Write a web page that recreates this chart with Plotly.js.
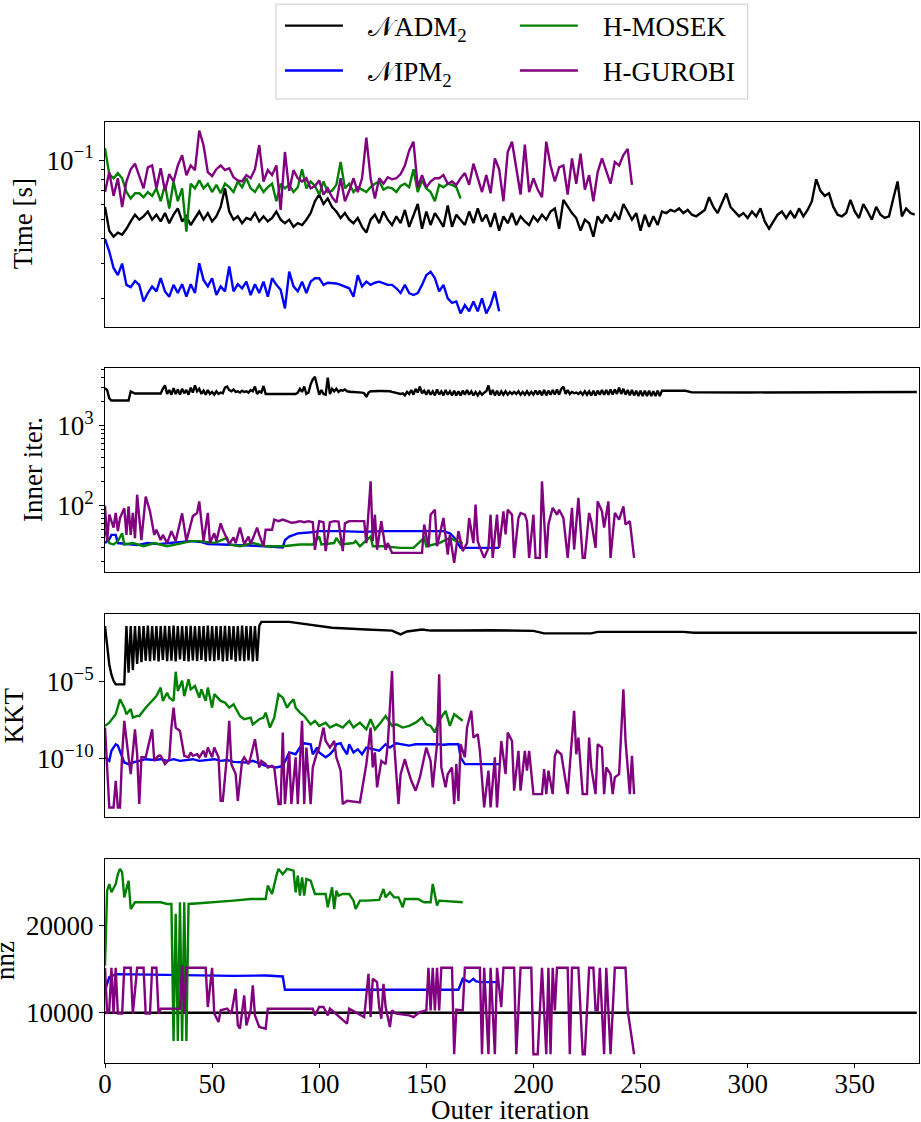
<!DOCTYPE html>
<html>
<head>
<meta charset="utf-8">
<script src="https://cdn.plot.ly/plotly-3.0.1.min.js"></script>
<style>
  html, body { margin: 0; padding: 0; background: #fff; }
  #chart { width: 921px; height: 1122px; }
</style>
</head>
<body>
<div id="chart"></div>
<script>
// ---- Time [s] (one value every 2 outer iterations, starting at 0)
const timeAdm = [
  0.058, 0.044, 0.041, 0.043, 0.042, 0.045, 0.049, 0.053, 0.05,
  0.052, 0.055, 0.05, 0.053, 0.049, 0.054, 0.048, 0.053, 0.057, 0.049, 0.052, 0.047, 0.051, 0.055, 0.05, 0.054, 0.049, 0.052, 0.058, 0.072,
  0.055, 0.05, 0.052, 0.048, 0.051, 0.05, 0.054, 0.049, 0.052, 0.049, 0.051, 0.055, 0.05, 0.048, 0.05, 0.046, 0.048, 0.047, 0.05, 0.054,
  0.062, 0.067, 0.06, 0.064, 0.058, 0.055, 0.051, 0.054, 0.05, 0.048, 0.051, 0.046, 0.043,
  0.05, 0.053, 0.048, 0.055, 0.05, 0.047, 0.052, 0.048, 0.056, 0.046, 0.052, 0.06, 0.045, 0.055, 0.047, 0.054, 0.05, 0.046, 0.059, 0.046, 0.053,
  0.05, 0.047, 0.055, 0.048, 0.057, 0.049, 0.053, 0.046, 0.054, 0.044, 0.052, 0.048, 0.054, 0.047, 0.052, 0.049, 0.047, 0.052, 0.049, 0.053,
  0.05, 0.055, 0.057, 0.045, 0.063, 0.058, 0.054, 0.051, 0.044, 0.05, 0.048, 0.041, 0.052, 0.048, 0.053, 0.049, 0.054, 0.05, 0.06, 0.055,
  0.05, 0.054, 0.044, 0.053, 0.046, 0.052, 0.047,
  0.055, 0.054, 0.056, 0.055, 0.057, 0.054, 0.056, 0.053, 0.052, 0.054, 0.056, 0.065, 0.058, 0.054, 0.06, 0.068, 0.058, 0.055, 0.052, 0.054,
  0.051, 0.055, 0.052, 0.057, 0.049, 0.045, 0.049, 0.053, 0.055, 0.051, 0.055, 0.051, 0.057, 0.052, 0.056, 0.062, 0.08, 0.07, 0.066, 0.068,
  0.058, 0.053, 0.052, 0.054, 0.063, 0.055, 0.051, 0.06, 0.055, 0.05, 0.058, 0.053, 0.051, 0.052, 0.064, 0.078, 0.052, 0.057, 0.054, 0.053
];
const timeIpm = [
  0.04, 0.0345, 0.0285, 0.0262, 0.03, 0.0234, 0.0228, 0.0245, 0.0234, 0.0193,
  0.0213, 0.023, 0.0217, 0.0253, 0.0217, 0.0204, 0.0234, 0.0213, 0.0236, 0.0204,
  0.0236, 0.0213, 0.0301, 0.0248, 0.023, 0.0253, 0.0208, 0.023, 0.0217, 0.029,
  0.0217, 0.0236, 0.0225, 0.0243, 0.0208, 0.0236, 0.0213, 0.0243, 0.0204, 0.0253,
  0.0234, 0.0221, 0.0178, 0.0273, 0.023, 0.0217, 0.0243, 0.0213, 0.0243, 0.0253,
  0.0253, 0.0234, 0.024, 0.024, 0.0238, 0.0234, 0.023, 0.0225, 0.0204, 0.0262,
  0.023, 0.0243, 0.0234, 0.024, 0.0243, 0.0238, 0.0234, 0.0234, 0.0225, 0.0213,
  0.0234, 0.0213, 0.0208, 0.0213, 0.0234, 0.0262, 0.0273, 0.0253, 0.0217, 0.0234,
  0.02, 0.019, 0.0193, 0.0168, 0.0185, 0.0172, 0.0193, 0.0172, 0.02, 0.0168,
  0.0185, 0.0217, 0.0172
];
const timeMosek = [
  0.115, 0.085, 0.081, 0.086, 0.081, 0.069, 0.064, 0.068, 0.068, 0.065,
  0.069, 0.066, 0.072, 0.062, 0.075, 0.057, 0.078, 0.062, 0.072, 0.0435,
  0.076, 0.072, 0.079, 0.072, 0.076, 0.069, 0.075, 0.068, 0.076, 0.073,
  0.069, 0.078, 0.073, 0.081, 0.072, 0.069, 0.075, 0.069, 0.073, 0.076,
  0.062, 0.076, 0.072, 0.075, 0.069, 0.073, 0.09, 0.072, 0.078, 0.074,
  0.067, 0.078, 0.069, 0.07, 0.075, 0.098, 0.072, 0.076, 0.069, 0.073,
  0.071, 0.069, 0.073, 0.076, 0.078, 0.071, 0.073, 0.072, 0.069, 0.074,
  0.076, 0.073, 0.09, 0.069, 0.079, 0.072, 0.069, 0.062, 0.075, 0.073,
  0.076, 0.075, 0.073, 0.064
];
const timeGurobi = [
  0.069, 0.087, 0.066, 0.081, 0.058, 0.078, 0.09, 0.096, 0.083, 0.072,
  0.092, 0.094, 0.072, 0.091, 0.07, 0.085, 0.078, 0.094, 0.106, 0.084,
  0.094, 0.089, 0.141, 0.119, 0.087, 0.083, 0.09, 0.094, 0.089, 0.091,
  0.082, 0.079, 0.078, 0.084, 0.081, 0.09, 0.119, 0.078, 0.089, 0.084,
  0.094, 0.056, 0.11, 0.07, 0.089, 0.081, 0.078, 0.081, 0.072, 0.074,
  0.079, 0.067, 0.072, 0.065, 0.061, 0.081, 0.062, 0.07, 0.081, 0.069,
  0.081, 0.13, 0.081, 0.064, 0.081, 0.076, 0.082, 0.08, 0.081, 0.085,
  0.094, 0.112, 0.124, 0.073, 0.084, 0.073, 0.078, 0.081, 0.081, 0.084,
  0.076, 0.078, 0.075, 0.081, 0.086, 0.075, 0.096, 0.081, 0.069, 0.084,
  0.068, 0.102, 0.09, 0.062, 0.11, 0.124, 0.089, 0.067, 0.12, 0.069,
  0.081, 0.071, 0.065, 0.124, 0.094, 0.078, 0.092, 0.094, 0.067, 0.102,
  0.076, 0.108, 0.071, 0.084, 0.062, 0.087, 0.102, 0.089, 0.076, 0.098,
  0.094, 0.106, 0.114, 0.075
];

// ---- Inner iterations
const innerAdmDense = [ // every outer iteration 0..259
  2960, 2800, 2200, 2070, 2070, 2070, 2070, 2070, 2070, 2070,
  2070, 2070, 2690, 2600, 2530, 2530, 2530, 2530, 2530, 2530,
  2530, 2530, 2530, 2530, 2530, 2530, 2530, 2900, 3200, 2500,
  2800, 2450, 2950, 2500, 2850, 2450, 2900, 2550, 2800, 2450,
  3000, 2600, 3200, 2700, 2900, 2500, 2750, 2450, 2800, 2500,
  2650, 2450, 2700, 2500, 2600, 2550, 3000, 3100, 2800, 2700,
  2850, 2650, 2700, 2600, 2750, 2650, 2700, 2600, 2800, 2700,
  3100, 2500, 2700, 2600, 3150, 2500, 2500, 2500, 2500, 2500,
  2500, 2500, 2500, 2500, 2500, 2500, 2500, 2500, 2500, 2500,
  2600, 2900, 2650, 3100, 2500, 2600, 3300, 3800, 4100, 3000,
  2450, 2800, 2500, 2450, 4000, 2500, 2900, 2700, 2900, 2650,
  2800, 2750, 2850, 2700, 2650, 2650, 2650, 2650, 2650, 2600,
  2600, 2550, 2300, 2600, 2700, 2700, 2720, 2720, 2720, 2720,
  2720, 2720, 2700, 2700, 2650, 2600, 2600, 2550, 2500, 2550,
  2400, 2650, 2500, 2800, 2450, 2900, 2600, 3100, 2550, 2750,
  2450, 2800, 2450, 2700, 2400, 2850, 2450, 2700, 2400, 2800,
  2450, 2700, 2400, 2750, 2400, 2700, 2400, 2750, 2450, 2800,
  2450, 2700, 2400, 2650, 2400, 2650, 2450, 2600, 2700, 3200,
  2450, 2800, 2400, 2750, 2400, 2700, 2450, 2700, 2450, 2650,
  2500, 2650, 2500, 2700, 2450, 2650, 2450, 2700, 2450, 2650,
  2450, 2750, 2450, 2750, 2400, 2800, 2400, 2750, 2450, 2800,
  2450, 2850, 2450, 2900, 3100, 2500, 2800, 2500, 2650, 2550,
  2600, 2500, 2650, 2450, 2700, 2450, 2700, 2400, 2750, 2400,
  2750, 2450, 2800, 2450, 2800, 2450, 2850, 2450, 2850, 2500,
  3000, 2500, 2900, 2450, 2800, 2400, 2800, 2400, 2750, 2350,
  2750, 2350, 2750, 2350, 2750, 2350, 2700, 2350, 2750, 2350
];
const innerAdmTailIt = [260, 271, 274, 300, 320, 340, 360, 379];
const innerAdmTail = [2750, 2740, 2620, 2610, 2630, 2660, 2670, 2650];

const innerIpmIt = [0, 2, 3, 5, 6, 10, 15, 20, 25, 30, 35, 40, 45, 48, 55, 65, 75, 83, 84, 86, 90, 95, 100, 110, 120, 130, 140, 150, 158, 161, 163, 165, 166, 175, 184];
const innerIpm = [34, 38, 43, 43, 34, 33, 32, 34, 33, 34, 35, 36, 35, 33, 32.6, 32, 31, 30, 37, 41, 45, 46, 48, 48, 47, 48, 48, 47.5, 48, 45, 40, 33, 29.6, 29.6, 29.6];

const innerMosekIt = [0, 2, 4, 6, 8, 9, 13, 18, 23, 29, 35, 40, 44, 51, 57, 58, 63, 69, 75, 83, 91, 97, 100, 101, 107, 108, 110, 116, 117, 119, 124, 125, 130, 138, 144, 149, 150, 156, 161, 164, 167];
const innerMosek = [48, 34, 32.6, 36, 45, 32.6, 34, 31, 34, 31, 33.5, 36, 36, 34, 39.5, 32.6, 31, 34, 31, 31, 32.6, 32.6, 41, 32.6, 34, 39.5, 32.6, 34, 36, 31, 41, 31, 31, 29.6, 29.6, 39.5, 31, 34, 39.5, 36, 34];

const innerGurobiIt = [
  0, 1, 2, 4, 5, 6, 7, 9, 10, 11, 12, 13, 14, 15, 17, 19, 21, 23, 24, 26,
  27, 29, 31, 33, 36, 38, 40, 41, 43, 44, 46, 48, 49, 51, 52, 54, 55, 58, 60, 61,
  63, 65, 67, 68, 71, 72, 74, 75, 78, 79, 81, 83, 85, 87, 89, 91, 93, 95, 97, 98,
  100, 102, 103, 105, 107, 109, 111, 112, 114, 116, 118, 121, 122, 124, 125, 126, 127, 129, 131, 132,
  134, 148, 149, 151, 152, 154, 155, 158, 160, 161, 163, 165, 167, 169, 170, 172, 173, 174, 175, 177,
  179, 180, 181, 183, 184, 186, 187, 188, 190, 191, 193, 194, 196, 197, 198, 200, 201, 203, 204, 206,
  207, 209, 211, 212, 214, 216, 218, 219, 221, 223, 224, 226, 227, 229, 230, 232, 233, 235, 236, 238,
  240, 242, 243, 245, 247
];
const innerGurobi = [
  100, 36, 77, 53, 81, 48, 70, 93, 43, 98, 43, 81, 39, 137, 37, 130, 85, 43, 50, 37,
  43, 34, 48, 36, 80, 36, 58, 74, 81, 113, 36, 81, 34, 45, 36, 60, 50, 33, 40, 34,
  53, 33, 41, 33, 53, 43, 31, 50, 50, 67, 64, 67, 64, 61, 62, 64, 62, 64, 62, 28,
  64, 62, 27, 62, 64, 63, 27, 60, 64, 64, 64, 64, 34, 201, 36, 77, 28, 64, 28, 34,
  25.6, 25.6, 58, 30, 77, 89, 31, 70, 24.4, 43, 19.2, 48, 27, 34, 70, 34, 103, 36, 30, 22.2,
  29.6, 77, 22.2, 77, 29.6, 85, 43.5, 89, 77, 22.2, 70, 81, 77, 64, 22.2, 77, 22.2, 22.2, 201, 22.2,
  58, 94, 77, 89, 70, 22.2, 94, 28.2, 125, 22.2, 22.2, 81, 64, 29.6, 113, 85, 53, 113, 22.2, 81,
  67, 98, 58, 64, 22.2
];

// ---- KKT residual
const kktAdmDense = [ // every outer iteration 0..72
  4.5e-2, 1.7e-3, 1.4e-4, 3e-5, 1.2e-5, 7e-6, 7e-6, 7e-6, 7e-6, 7e-6,
  4.5e-2, 4e-5, 4.5e-2, 6e-5, 4.5e-2, 1.5e-4, 4.5e-2, 2e-4, 4.5e-2, 2.5e-4,
  4.8e-2, 2.3e-4, 4.5e-2, 2.6e-4, 4.6e-2, 2.2e-4, 4.5e-2, 2.8e-4, 4.7e-2, 2.3e-4,
  4.5e-2, 2.5e-4, 4.8e-2, 2.2e-4, 4.5e-2, 3e-4, 4.6e-2, 2.4e-4, 4.5e-2, 2.2e-4,
  4.7e-2, 2.6e-4, 4.5e-2, 2.3e-4, 4.6e-2, 2.8e-4, 4.5e-2, 2.2e-4, 4.8e-2, 2.5e-4,
  4.5e-2, 2.3e-4, 4.6e-2, 2.7e-4, 4.5e-2, 2.2e-4, 4.7e-2, 2.4e-4, 4.5e-2, 2.9e-4,
  4.6e-2, 2.2e-4, 4.5e-2, 2.5e-4, 4.8e-2, 2.3e-4, 4.5e-2, 2.6e-4, 4.6e-2, 2.2e-4,
  4.5e-2, 2.4e-4, 4.7e-2
];
const kktAdmTailIt = [73, 86, 94, 106, 122, 134, 138, 141, 148, 152, 165, 180, 200, 205, 227, 230, 270, 275, 379];
const kktAdmTail = [8.5e-2, 8.5e-2, 5.7e-2, 3.5e-2, 2.7e-2, 2.3e-2, 1.3e-2, 2e-2, 2.7e-2, 2.3e-2, 2.3e-2, 2.4e-2, 2.2e-2, 1.5e-2, 1.5e-2, 1.9e-2, 1.9e-2, 1.65e-2, 1.65e-2];

const kktIpmIt = [
  0, 2, 3, 5, 6, 8, 9, 11, 13, 16, 19, 23, 26, 29, 32, 35, 38, 41, 44, 47,
  51, 54, 57, 60, 63, 66, 69, 72, 75, 80, 83, 85, 86, 89, 91, 93, 96, 97, 99, 100,
  103, 105, 107, 108, 110, 111, 113, 114, 116, 118, 120, 122, 125, 128, 131, 133, 136, 139, 142, 145,
  149, 152, 155, 158, 161, 165, 166, 168, 184
];
const kktIpm = [
  1.2e-10, 7e-11, 3.2e-10, 8.5e-10, 7e-10, 1.2e-10, 5.5e-11, 4.3e-11, 5.5e-11, 7e-11,
  9e-11, 8e-11, 9e-11, 7e-11, 9e-11, 7e-11, 8e-11, 9e-11, 7e-11, 8e-11,
  9e-11, 7e-11, 8e-11, 6e-11, 5.5e-11, 5.5e-11, 7e-11, 4.8e-11, 3.3e-11, 2.6e-11,
  3.3e-11, 1.2e-10, 2.5e-10, 1.9e-10, 5.2e-10, 1e-9, 8.5e-10, 1.9e-10, 5.2e-10, 2.5e-10,
  1.2e-10, 1.9e-10, 4e-10, 8.5e-10, 1e-9, 5.2e-10, 1.9e-10, 8.5e-10, 2.5e-10, 4e-10,
  1.9e-10, 5.2e-10, 4e-10, 3.2e-10, 8.5e-10, 5.2e-10, 1e-9, 8.5e-10, 7e-10, 8.5e-10,
  9e-10, 8.5e-10, 8.5e-10, 8e-10, 8.5e-10, 8.5e-10, 1.2e-10, 4.3e-11, 4.3e-11
];

const kktMosekIt = [
  0, 2, 5, 7, 9, 10, 12, 13, 15, 16, 19, 22, 24, 26, 27, 29, 30, 32, 33, 34,
  36, 37, 39, 40, 42, 44, 45, 47, 48, 50, 51, 54, 56, 58, 60, 63, 65, 68, 69, 72,
  74, 75, 77, 79, 81, 83, 85, 86, 88, 89, 91, 93, 96, 98, 100, 103, 105, 108, 111, 114,
  116, 119, 122, 124, 126, 128, 131, 134, 136, 139, 142, 145, 148, 150, 152, 154, 156, 159, 161, 163,
  166, 167
];
const kktMosek = [
  1.35e-8, 2.2e-8, 7.8e-8, 7.4e-7, 2.1e-7, 7.8e-8, 1.7e-7, 4.7e-8, 6e-8, 6e-8,
  2.1e-7, 5.8e-7, 1.2e-6, 4.3e-6, 5.8e-7, 2e-6, 9.5e-7, 5.8e-7, 4.7e-5, 2.6e-6,
  1.2e-5, 1.2e-6, 1.5e-5, 3.3e-6, 5.5e-6, 9.5e-7, 3.3e-6, 5.8e-7, 4.3e-6, 2.1e-7,
  1.6e-6, 5.8e-7, 4.5e-7, 2.1e-7, 3.5e-7, 6e-8, 3.7e-8, 4.7e-8, 1.7e-8, 3.7e-8,
  4.7e-8, 1e-7, 1.05e-8, 4.7e-8, 1.6e-6, 9.5e-7, 2.1e-7, 3.5e-7, 7.4e-7, 2.1e-7,
  1e-7, 6e-8, 1.7e-8, 2.9e-8, 1.35e-8, 2.2e-8, 1.05e-8, 1.7e-8, 1.05e-8, 2.9e-8,
  1.05e-8, 2.2e-8, 8e-9, 3.7e-8, 8e-9, 1.7e-8, 6e-8, 1.35e-8, 1.7e-8, 1.05e-8,
  1.35e-8, 2.2e-8, 4.7e-8, 1.7e-8, 1.35e-8, 5e-9, 2.9e-8, 1.3e-7, 1.35e-8, 7.8e-8,
  3.7e-8, 2.9e-8
];

const kktGurobiIt = [
  0, 1, 2, 4, 5, 6, 7, 8, 9, 11, 12, 14, 15, 16, 17, 19, 22, 23, 25, 26,
  28, 30, 31, 32, 33, 35, 37, 39, 40, 41, 43, 44, 46, 47, 48, 50, 51, 53, 54, 55,
  57, 58, 59, 61, 62, 64, 65, 67, 68, 70, 72, 73, 75, 76, 78, 79, 81, 82, 83, 84,
  86, 87, 89, 90, 92, 93, 94, 96, 97, 99, 100, 102, 103, 105, 107, 108, 110, 111, 113, 119,
  121, 122, 124, 125, 126, 127, 129, 131, 132, 134, 135, 137, 138, 140, 141, 143, 145, 147, 149, 150,
  152, 153, 155, 156, 157, 159, 160, 162, 163, 164, 165, 166, 168, 169, 171, 172, 174, 175, 177, 179,
  180, 182, 183, 185, 187, 188, 190, 191, 193, 194, 196, 197, 198, 200, 202, 204, 205, 206, 207, 209,
  210, 211, 213, 214, 216, 218, 219, 220, 221, 223, 225, 226, 227, 229, 230, 232, 233, 234, 236, 237,
  238, 240, 242, 243, 245, 246, 247
];
const kktGurobi = [
  1.05e-8, 1.6e-11, 6.3e-14, 6.3e-14, 3.5e-12, 6.3e-14, 6.3e-14, 1.9e-10, 2.9e-8, 1.2e-10,
  9.5e-12, 8e-9, 1.9e-10, 1.05e-13, 1.2e-10, 1.2e-10, 8e-9, 7e-11, 1.5e-10, 1.5e-10,
  4.3e-11, 9e-11, 1.05e-8, 2.1e-7, 1.05e-8, 6.3e-9, 1.5e-10, 1.2e-10, 2.5e-10, 1.5e-10,
  1.9e-10, 1.2e-10, 3.2e-10, 1.2e-10, 5.2e-10, 1.2e-10, 5.2e-10, 1.2e-10, 1.7e-13, 1.7e-13,
  1.9e-10, 2.9e-8, 4.3e-11, 9.5e-12, 1.7e-13, 7e-11, 1.2e-10, 4.3e-11, 1.2e-10, 1.8e-9,
  2.6e-11, 7e-11, 4.3e-11, 2.6e-11, 3.3e-11, 2.6e-11, 1.05e-13, 1.05e-13, 5e-9, 1.05e-13,
  2.5e-10, 1.05e-13, 1.2e-10, 1.05e-13, 2.9e-8, 1.05e-13, 5.2e-10, 1.05e-13, 2.6e-11, 2.5e-10,
  5.2e-10, 1.05e-8, 1.4e-9, 5.2e-10, 1.4e-9, 1.2e-10, 1.6e-11, 1.05e-13, 1.7e-13, 1.35e-13,
  9.5e-12, 4.3e-11, 1.05e-8, 2.6e-11, 2.5e-10, 1.3e-12, 7e-11, 4.3e-11, 8.5e-10, 5.2e-5,
  8.5e-10, 1.05e-13, 9.5e-12, 9e-11, 2.6e-11, 3.5e-12, 7.8e-13, 5.8e-12, 1.2e-10, 5.2e-10,
  7e-11, 1.3e-12, 8.5e-10, 3.2e-5, 2.6e-11, 1.3e-12, 9.5e-12, 2.6e-11, 1.05e-13, 4.3e-11,
  1.7e-13, 8.5e-10, 1.2e-10, 1.05e-8, 1.3e-7, 2.3e-9, 3.9e-9, 3.2e-10, 6.3e-14, 1.6e-11,
  6.3e-14, 1.2e-10, 6.3e-14, 1.4e-9, 9.5e-12, 5e-9, 1.4e-9, 7.8e-13, 3.2e-10, 7.8e-13,
  3.2e-10, 1.6e-11, 3.2e-10, 4.7e-13, 4.7e-13, 4.7e-13, 2e-11, 4.7e-13, 1.6e-11, 4.7e-13,
  1.5e-10, 3.2e-10, 1.9e-10, 2.6e-11, 4.7e-13, 2.3e-9, 1.3e-7, 1.9e-10, 2.3e-9, 4.7e-13,
  4.7e-13, 2.3e-9, 2.6e-11, 4.7e-13, 8.5e-10, 5.2e-10, 4.7e-13, 2.6e-11, 9.5e-12, 4.7e-13,
  5.8e-12, 9.5e-12, 3.3e-6, 1.4e-9, 4.7e-13, 1.5e-10, 4.7e-13
];

// ---- nnz
const nnzAdmIt = [0, 379];
const nnzAdm = [10000, 10000];

const nnzIpmIt = [0, 2, 5, 13, 26, 44, 60, 75, 83, 84, 165, 167, 170, 172, 173, 175, 183];
const nnzIpm = [12560, 14080, 14430, 14390, 14350, 14270, 14230, 14270, 14160, 12630, 12630, 13890, 13510, 13890, 13630, 13510, 13510];

const nnzMosekIt = [
  0, 1, 2, 3, 5, 6, 7, 8, 9, 11, 12, 14, 19, 26, 29, 31, 32, 33, 34, 35,
  36, 37, 38, 39, 44, 52, 60, 68, 75, 76, 78, 80, 81, 83, 85, 88, 89, 90, 91, 92,
  93, 94, 96, 98, 99, 103, 104, 106, 107, 108, 109, 111, 114, 116, 117, 119, 122, 128, 130, 131,
  133, 135, 137, 139, 140, 146, 149, 152, 153, 155, 156, 167
];
const nnzMosek = [
  15400, 24000, 24770, 23820, 24770, 25900, 26500, 26100, 23240, 25150, 21900, 22670, 22670, 22670, 22480, 22480, 6760, 21340, 6760, 22670,
  6760, 22670, 6760, 22480, 22560, 22670, 22860, 23050, 23050, 24580, 23630, 25720, 26500, 25900, 26500, 26300, 23820, 25720, 23440, 25530,
  23440, 25340, 25150, 23630, 23630, 23630, 22100, 24390, 21900, 24010, 23440, 23630, 23630, 22860, 21900, 22860, 22860, 22940, 24200, 23240,
  23820, 23240, 23240, 22100, 23050, 23050, 22670, 22670, 24770, 22290, 22860, 22670
];

const nnzGurobiIt = [
  0, 1, 2, 3, 4, 5, 6, 8, 9, 12, 13, 15, 18, 19, 21, 22, 24, 25, 26, 35,
  36, 37, 38, 47, 48, 50, 51, 53, 54, 57, 59, 61, 62, 63, 65, 66, 68, 69, 70, 72,
  75, 76, 97, 98, 100, 102, 104, 105, 113, 114, 121, 123, 124, 125, 127, 128, 129, 130, 131, 133,
  134, 136, 142, 144, 147, 150, 151, 152, 153, 154, 155, 156, 157, 162, 163, 164, 167, 168, 175, 176,
  177, 179, 180, 182, 183, 185, 186, 191, 192, 194, 199, 200, 202, 203, 204, 206, 207, 208, 209, 210,
  211, 216, 217, 218, 221, 223, 224, 226, 228, 229, 230, 231, 233, 234, 236, 238, 243, 244, 247
];
const nnzGurobi = [
  15150, 9890, 10270, 15150, 9890, 15150, 9890, 9890, 15150, 15150, 9890, 15150, 15150, 9890, 9890, 15150, 15150, 9890, 10460, 10460,
  15420, 9890, 15150, 15150, 10650, 15150, 9890, 8930, 10270, 10460, 9890, 12750, 8550, 8170, 11980, 8550, 10270, 13130, 9690, 8360,
  8170, 10460, 10460, 9690, 10650, 10650, 9690, 10460, 8740, 10460, 9500, 14470, 9500, 13890, 13510, 10650, 9310, 13320, 10650, 8360,
  10270, 9890, 9690, 9500, 10080, 10270, 15150, 10270, 15150, 10270, 15150, 10270, 15150, 15150, 5230, 10350, 10270, 15150, 15150, 5230,
  15150, 5230, 15150, 5230, 15150, 10650, 15150, 15150, 5230, 15150, 15150, 5230, 5230, 10270, 15150, 5230, 15150, 5230, 15150, 10270,
  15150, 15150, 5230, 15150, 15150, 5230, 5230, 15150, 15150, 10270, 10270, 15150, 5230, 15150, 5230, 15150, 15150, 10270, 5230
];

const xTicks = [0, 50, 100, 150, 200, 250, 300, 350];

// ---- helpers
const BLACK = "#000000", BLUE = "#0000ff", GREEN = "#008000", PURPLE = "#800080";
const FONT = "'Liberation Serif', 'DejaVu Serif', serif";
const GAP = "\u00a0\u00a0\u00a0";
const everyStep = (n, step) => Array.from({ length: n }, (_, i) => i * step);

function line(x, y, color, panel, extra) {
  const s = panel === 1 ? "" : String(panel);
  return Object.assign({
    x, y, type: "scatter", mode: "lines",
    line: { color, width: 2.4 },
    xaxis: "x" + s, yaxis: "y" + s,
    showlegend: false, hoverinfo: "skip"
  }, extra || {});
}

const traces = [
  // panel 1: time
  line(everyStep(timeAdm.length, 2), timeAdm, BLACK, 1, { name: GAP + "𝒩ADM<sub>2</sub>", showlegend: true, legend: "legend" }),
  line(everyStep(timeIpm.length, 2), timeIpm, BLUE, 1, { name: GAP + "𝒩IPM<sub>2</sub>", showlegend: true, legend: "legend2" }),
  line(everyStep(timeMosek.length, 2), timeMosek, GREEN, 1, { name: GAP + "H-MOSEK", showlegend: true, legend: "legend3" }),
  line(everyStep(timeGurobi.length, 2), timeGurobi, PURPLE, 1, { name: GAP + "H-GUROBI", showlegend: true, legend: "legend4" }),
  // panel 2: inner iterations
  line(everyStep(innerAdmDense.length, 1).concat(innerAdmTailIt), innerAdmDense.concat(innerAdmTail), BLACK, 2),
  line(innerIpmIt, innerIpm, BLUE, 2),
  line(innerMosekIt, innerMosek, GREEN, 2),
  line(innerGurobiIt, innerGurobi, PURPLE, 2),
  // panel 3: KKT
  line(everyStep(kktAdmDense.length, 1).concat(kktAdmTailIt), kktAdmDense.concat(kktAdmTail), BLACK, 3),
  line(kktIpmIt, kktIpm, BLUE, 3),
  line(kktMosekIt, kktMosek, GREEN, 3),
  line(kktGurobiIt, kktGurobi, PURPLE, 3),
  // panel 4: nnz
  line(nnzAdmIt, nnzAdm, BLACK, 4),
  line(nnzIpmIt, nnzIpm, BLUE, 4),
  line(nnzMosekIt, nnzMosek, GREEN, 4),
  line(nnzGurobiIt, nnzGurobi, PURPLE, 4)
];

const frame = {
  showline: true, linecolor: "black", linewidth: 1, mirror: true,
  zeroline: false, showgrid: false, ticks: "outside", ticklen: 5, tickwidth: 1, tickcolor: "black",
  tickfont: { family: FONT, size: 27, color: "black" }
};
const hiddenX = Object.assign({}, frame, { range: [0, 380], ticks: "", showticklabels: false });
const minorTicks = (vals) => ({ tickmode: "array", tickvals: vals, ticks: "outside", ticklen: 3.5, tickwidth: 1, tickcolor: "black" });

const legendAt = (x, y) => ({
  x, y, xanchor: "left", yanchor: "middle", xref: "paper", yref: "paper",
  bgcolor: "rgba(0,0,0,0)", borderwidth: 0, itemwidth: 58,
  font: { family: FONT, size: 27, color: "black" }
});

const textAt = (text, x, y, angle) => ({
  text, x, y, xref: "paper", yref: "paper", textangle: angle, showarrow: false,
  xanchor: "center", yanchor: "middle", font: { family: FONT, size: 27, color: "black" }
});

const layout = {
  width: 921, height: 1122,
  margin: { l: 105, r: 2, t: 120, b: 59.3 },
  paper_bgcolor: "white", plot_bgcolor: "white",
  font: { family: FONT, size: 27, color: "black" },
  xaxis: Object.assign({}, hiddenX, { domain: [0, 1], anchor: "y" }),
  xaxis2: Object.assign({}, hiddenX, { domain: [0, 1], anchor: "y2" }),
  xaxis3: Object.assign({}, hiddenX, { domain: [0, 1], anchor: "y3" }),
  xaxis4: Object.assign({}, frame, {
    domain: [0, 1], anchor: "y4", range: [0, 380], ticklen: 4,
    tickmode: "array", tickvals: xTicks, ticklabelstandoff: -7
  }),
  yaxis: Object.assign({}, frame, {
    domain: [0.7825, 1], anchor: "x", type: "log", range: [-1.842, -0.807],
    tickmode: "array", tickvals: [0.1], ticktext: ["10<sup>−1</sup>"],
    minor: minorTicks([0.02, 0.03, 0.04, 0.05, 0.06, 0.07, 0.08, 0.09])
  }),
  yaxis2: Object.assign({}, frame, {
    domain: [0.5216, 0.739], anchor: "x2", type: "log", range: [1.167, 3.728],
    tickmode: "array", tickvals: [100, 1000], ticktext: ["10<sup>2</sup>", "10<sup>3</sup>"],
    minor: minorTicks([20, 30, 40, 50, 60, 70, 80, 90, 200, 300, 400, 500, 600, 700, 800, 900, 2000, 3000, 4000, 5000])
  }),
  yaxis3: Object.assign({}, frame, {
    domain: [0.261, 0.4774], anchor: "x3", type: "log", range: [-13.85, -0.54],
    tickmode: "array", tickvals: [1e-10, 1e-5], ticktext: ["10<sup>−10</sup>", "10<sup>−5</sup>"]
  }),
  yaxis4: Object.assign({}, frame, {
    domain: [0, 0.2168], anchor: "x4", range: [4227, 27640],
    tickmode: "array", tickvals: [10000, 20000], ticktext: ["10000", "20000"]
  }),
  legend: legendAt(0.2149, 1.1019),
  legend2: legendAt(0.2149, 1.0542),
  legend3: legendAt(0.5035, 1.1019),
  legend4: legendAt(0.5035, 1.0542),
  shapes: [{
    type: "rect", xref: "paper", yref: "paper",
    x0: 0.21, x1: 0.7896, y0: 1.0244, y1: 1.1252,
    line: { color: "#cccccc", width: 1 }, fillcolor: "rgba(0,0,0,0)"
  }],
  annotations: [
    textAt("Time [s]", -0.1007, 0.8913, -90),
    textAt("Inner iter.", -0.0884, 0.6303, -90),
    textAt("KKT", -0.112, 0.3692, -90),
    textAt("nnz", -0.1228, 0.1084, -90),
    textAt("Outer iteration", 0.498, -0.0498, 0)
  ]
};

Plotly.newPlot("chart", traces, layout, { displayModeBar: false, staticPlot: true });
</script>
</body>
</html>
